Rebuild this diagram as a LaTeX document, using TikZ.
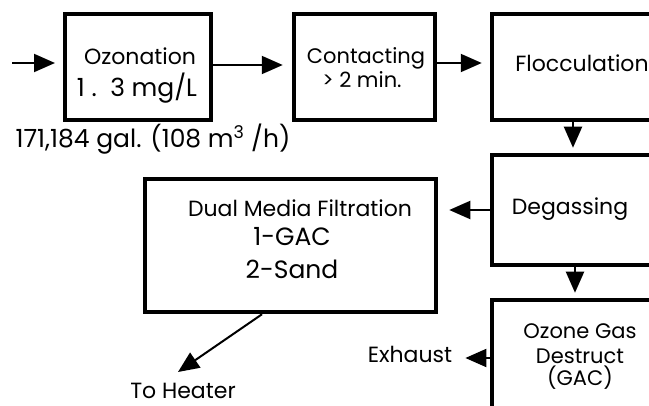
\documentclass[tikz,border=0pt]{standalone}
\usepackage{fontspec}
\setmainfont{Poppins}
\usetikzlibrary{arrows.meta}
\begin{document}
\begin{tikzpicture}[x=1pt,y=-1pt,
  box/.style={draw=black,line width=4.5pt,rectangle,inner sep=0pt},
  lbl/.style={inner sep=0pt,anchor=base,font=\fontsize{22}{24}\selectfont},
  big/.style={font=\fontsize{25}{28}\selectfont},
  small/.style={font=\fontsize{21}{23}\selectfont},
  flow/.style={line width=2pt,-{Triangle[length=21pt,width=18pt]}}]
\useasboundingbox (0,0) rectangle (649,406);
\clip (0,0) rectangle (649,406);
\fill[white] (0,0) rectangle (649,406);
% boxes
\node[box,minimum width=146pt,minimum height=106pt] (oz) at (138,67) {};
\node[box,minimum width=141pt,minimum height=106pt] (ct) at (364.5,67) {};
\node[box,minimum width=206pt,minimum height=106pt] (fl) at (595,67) {};
\node[box,minimum width=206pt,minimum height=110pt] (dg) at (595,210) {};
\node[box,minimum width=206pt,minimum height=180pt] (og) at (595,390) {};
\node[box,minimum width=291pt,minimum height=133pt] (dm) at (290.5,245.5) {};
% texts
\node[lbl] (t1) at (140,65) {Ozonation};
\node[lbl,big] (t2) at (137,97) {1 .\ \ 3 mg/L};
\node[lbl,small] (t3) at (366,64) {Contacting};
\node[lbl,small] (t4) at (362,88) {> 2 min.};
\node[lbl] (t5) at (582,72) {Flocculation};
\node[lbl] (t6) at (570,215) {Degassing};
\node[lbl] (t7) at (300,217) {Dual Media Filtration};
\node[lbl,big] (t8) at (292,246) {1-GAC};
\node[lbl,big] (t9) at (292,279) {2-Sand};
\node[lbl,small] (t10) at (580,339) {Ozone Gas};
\node[lbl,small] (t11) at (580,364) {Destruct};
\node[lbl,small] (t12) at (580,386) {(GAC)};
\node[lbl,font=\fontsize{25}{27}\selectfont] (flowrate) at (153,148) {171,184 gal. (108 m\textsuperscript{3} /h)};
\node[lbl] (ex) at (410,363) {Exhaust};
\node[lbl] (th) at (183,399) {To Heater};
% connectors
\coordinate (in) at (12,63);
\draw[flow] (in) -- (55,63) coordinate (inend);
\draw[flow,shorten >=9pt] (oz.east |- 0,65) -- (ct.west |- 0,65);
\draw[flow,shorten >=8pt] (ct.east |- 0,63) -- (fl.west |- 0,63);
\draw[flow,shorten >=5pt] (fl.south -| 573,0) -- (dg.north -| 573,0);
\draw[flow,shorten >=11pt] (dg.west) -- (dm.east |- dg.west);
\draw[flow,shorten >=5pt] (dg.south -| 575,0) -- (og.north -| 575,0);
\draw[flow,shorten >=13pt] (og.west |- 0,358) -- (ex.east |- 0,358);
\coordinate (heat) at (178,372);
\draw[flow] (dm.south -| 262,0) -- (heat);
\end{tikzpicture}
\end{document}
